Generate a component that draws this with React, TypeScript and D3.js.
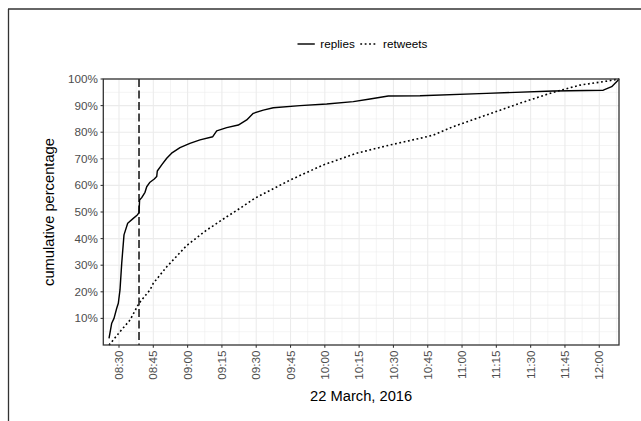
import * as d3 from "d3";

// cumulative share of replies / retweets over the morning of 22 March 2016
const replyTimes = [
  "08:25:38", "08:26:49", "08:27:49", "08:29:00", "08:29:42", "08:30:26",
  "08:31:11", "08:32:11", "08:33:48", "08:36:15", "08:38:00", "08:38:45",
  "08:39:00", "08:39:56", "08:41:22", "08:42:07", "08:43:33", "08:45:26",
  "08:46:29", "08:46:45", "08:48:40", "08:50:52", "08:53:00", "08:56:40",
  "09:01:00", "09:05:25", "09:11:00", "09:12:43", "09:17:06", "09:22:10",
  "09:25:50", "09:28:43", "09:33:06", "09:37:28", "09:49:08", "10:00:49",
  "10:12:27", "10:19:45", "10:27:45", "10:41:37", "11:10:46", "11:39:54",
  "12:01:46", "12:05:26", "12:08:20", "12:08:38"
];
const replyPct = [
  2.5, 8.2, 10.0, 13.8, 15.7, 20.7,
  30.7, 41.4, 45.8, 47.6, 48.9, 49.7,
  54.5, 55.4, 57.4, 59.5, 61.2, 62.4,
  63.3, 65.4, 67.7, 70.2, 72.1, 74.2,
  75.8, 77.1, 78.3, 80.5, 81.7, 82.7,
  84.6, 87.1, 88.3, 89.2, 90.0, 90.6,
  91.5, 92.5, 93.6, 93.7, 94.6, 95.5,
  95.8, 97.1, 99.6, 100
];

const retweetTimes = [
  "08:25:38", "08:26:49", "08:30:26", "08:34:49", "08:38:45", "08:43:33",
  "08:45:00", "08:50:52", "08:52:18", "08:59:36", "09:08:18", "09:17:06",
  "09:22:54", "09:29:28", "09:44:46", "09:59:20", "10:13:56", "10:28:30",
  "10:41:37", "10:47:25", "10:56:10", "11:10:46", "11:25:20", "11:39:54",
  "11:51:34", "12:03:14", "12:08:38"
];
const retweetPct = [
  0, 1.2, 5.0, 9.4, 15.7, 20.7,
  23.2, 29.4, 30.7, 37.4, 43.2, 48.2,
  51.4, 55.2, 62.0, 67.7, 72.1, 75.2,
  77.7, 78.9, 82.1, 86.5, 90.9, 95.0,
  97.7, 99.2, 100
];

const xTickLabels = [
  "08:30", "08:45", "09:00", "09:15", "09:30", "09:45", "10:00", "10:15",
  "10:30", "10:45", "11:00", "11:15", "11:30", "11:45", "12:00"
];
const yTickValues = [10, 20, 30, 40, 50, 60, 70, 80, 90, 100];
const xDomain = ["08:23:08", "12:08:38"];
const markerTime = "08:38:45";
const seriesNames = ["replies", "retweets"];
const xTitle = "22 March, 2016";
const yTitle = "cumulative percentage";

const width = 641;
const height = 421;
const panel = { left: 103.3, right: 619, top: 79, bottom: 345 };
const font = "'Liberation Sans', Arial, Helvetica, sans-serif";
const gridColor = "#EBEBEB";
const darkGrey = "#333333";
const tickTextColor = "#4D4D4D";
const lineWidth = 1.42;
const dottedWidth = 1.6;
const dottedDash = "1.8 2.6";

const parseTime = d3.timeParse("%H:%M:%S");
const parseTick = d3.timeParse("%H:%M");

type Point = { time: Date; value: number };

function toSeries(times: string[], values: number[]): Point[] {
  return times.map((t, i) => ({ time: parseTime(t) as Date, value: values[i] }));
}

function App() {
  const replies = toSeries(replyTimes, replyPct);
  const retweets = toSeries(retweetTimes, retweetPct);

  const x = d3
    .scaleTime()
    .domain(xDomain.map((t) => parseTime(t) as Date))
    .range([panel.left, panel.right]);
  const y = d3.scaleLinear().domain([0, 100]).range([panel.bottom, panel.top]);

  const majorX = xTickLabels.map((t) => parseTick(t) as Date);
  const halfStep = 7.5 * 60 * 1000;
  const [d0, d1] = x.domain();
  const minorX = [majorX[0].getTime() - halfStep, ...majorX.map((d) => d.getTime() + halfStep)]
    .filter((t) => t > d0.getTime() && t < d1.getTime())
    .map((t) => new Date(t));
  const minorY = yTickValues.map((v) => v - 5);

  const path = d3
    .line<Point>()
    .x((d) => x(d.time))
    .y((d) => y(d.value));

  const markerX = x(parseTime(markerTime) as Date);

  // legend layout (centred above the panel)
  const keyWidth = 17.3;
  const legendY = 44;
  const key1 = 297.5;
  const text1 = key1 + keyWidth + 5.5;
  const key2 = text1 + 34.5 + 5.5;
  const text2 = key2 + keyWidth + 5.5;

  return (
    <svg
      width={width}
      height={height}
      style={{ position: "fixed", left: 0, top: 0, background: "#fff", overflow: "hidden" }}
      fontFamily={font}
    >
      <rect x={0} y={0} width={width} height={height} fill="#fff" />
      {/* outer frame: only top and left edges are inside the picture */}
      <line x1={8} x2={width} y1={9} y2={9} stroke={darkGrey} strokeWidth={1.3} />
      <line x1={8.5} x2={8.5} y1={9} y2={height} stroke={darkGrey} strokeWidth={1.3} />

      {/* grid */}
      <g>
        {minorY.map((v) => (
          <line key={`my${v}`} x1={panel.left} x2={panel.right} y1={y(v)} y2={y(v)} stroke={gridColor} strokeWidth={0.55} />
        ))}
        {minorX.map((d, i) => (
          <line key={`mx${i}`} x1={x(d)} x2={x(d)} y1={panel.top} y2={panel.bottom} stroke={gridColor} strokeWidth={0.55} />
        ))}
        {yTickValues.map((v) => (
          <line key={`gy${v}`} x1={panel.left} x2={panel.right} y1={y(v)} y2={y(v)} stroke={gridColor} strokeWidth={1.07} />
        ))}
        {majorX.map((d, i) => (
          <line key={`gx${i}`} x1={x(d)} x2={x(d)} y1={panel.top} y2={panel.bottom} stroke={gridColor} strokeWidth={1.07} />
        ))}
      </g>

      {/* series */}
      <path d={path(replies) ?? ""} fill="none" stroke="#000" strokeWidth={lineWidth} strokeLinejoin="round" />
      <path d={path(retweets) ?? ""} fill="none" stroke="#000" strokeWidth={dottedWidth} strokeDasharray={dottedDash} />
      <line
        x1={markerX}
        x2={markerX}
        y1={panel.top}
        y2={panel.bottom}
        stroke="#000"
        strokeWidth={lineWidth}
        strokeDasharray="8 3.5"
      />

      {/* panel border */}
      <rect
        x={panel.left}
        y={panel.top}
        width={panel.right - panel.left}
        height={panel.bottom - panel.top}
        fill="none"
        stroke={darkGrey}
        strokeWidth={1.3}
      />

      {/* y axis */}
      {yTickValues.map((v) => (
        <g key={`yt${v}`}>
          <line x1={panel.left - 2.75} x2={panel.left} y1={y(v)} y2={y(v)} stroke={darkGrey} strokeWidth={1.07} />
          <text x={panel.left - 5.5} y={y(v)} dy="0.35em" textAnchor="end" fontSize={11.7} fill={tickTextColor}>
            {`${v}%`}
          </text>
        </g>
      ))}

      {/* x axis */}
      {majorX.map((d, i) => (
        <g key={`xt${i}`}>
          <line x1={x(d)} x2={x(d)} y1={panel.bottom} y2={panel.bottom + 2.75} stroke={darkGrey} strokeWidth={1.07} />
          <text
            transform={`translate(${x(d)},${panel.bottom + 5.5}) rotate(-90)`}
            dy="0.35em"
            textAnchor="end"
            fontSize={11.7}
            fill={tickTextColor}
          >
            {xTickLabels[i]}
          </text>
        </g>
      ))}

      {/* titles */}
      <text x={(panel.left + panel.right) / 2} y={401} textAnchor="middle" fontSize={14.7} fill="#000">
        {xTitle}
      </text>
      <text
        transform={`translate(54,${(panel.top + panel.bottom) / 2}) rotate(-90)`}
        textAnchor="middle"
        fontSize={14.7}
        fill="#000"
      >
        {yTitle}
      </text>

      {/* legend */}
      <line x1={key1} x2={key1 + keyWidth} y1={legendY} y2={legendY} stroke="#000" strokeWidth={lineWidth} />
      <text x={text1} y={legendY} dy="0.35em" fontSize={11.7} fill="#000">
        {seriesNames[0]}
      </text>
      <line
        x1={key2}
        x2={key2 + keyWidth}
        y1={legendY}
        y2={legendY}
        stroke="#000"
        strokeWidth={dottedWidth}
        strokeDasharray={dottedDash}
      />
      <text x={text2} y={legendY} dy="0.35em" fontSize={11.7} fill="#000">
        {seriesNames[1]}
      </text>
    </svg>
  );
}

export default App;
